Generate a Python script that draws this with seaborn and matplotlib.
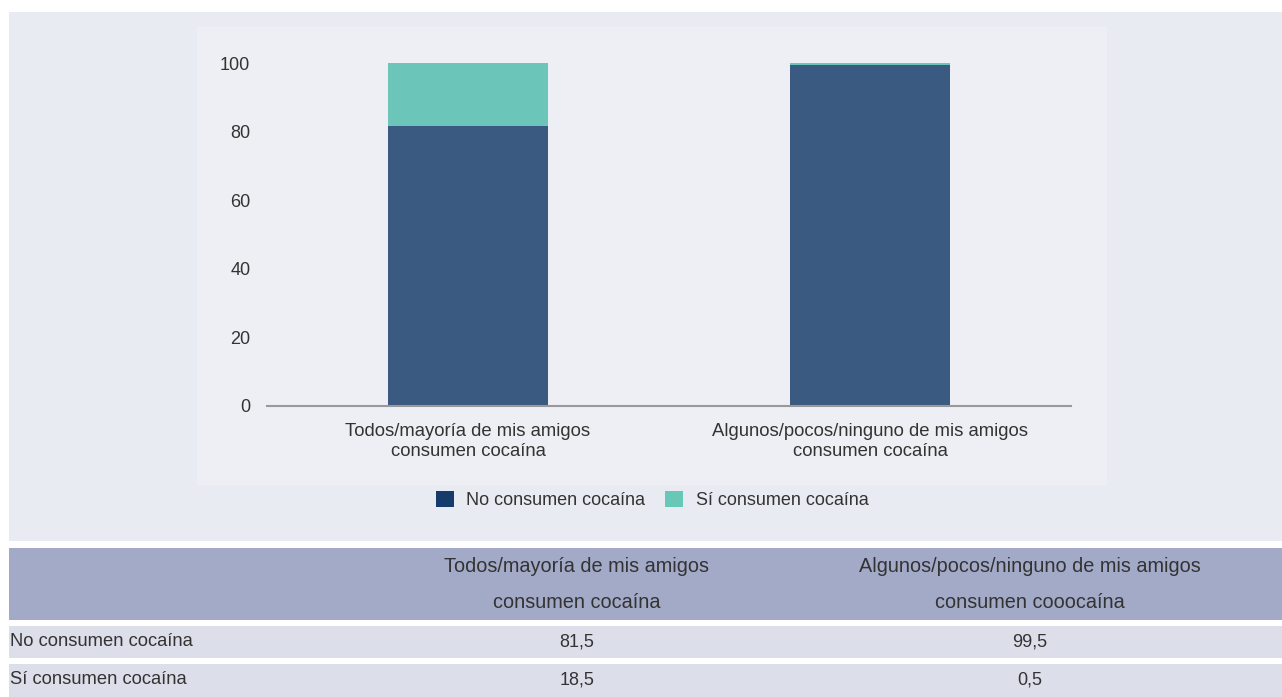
import matplotlib
matplotlib.use("Agg")
import matplotlib.pyplot as plt
import seaborn as sns
import pandas as pd
from matplotlib.patches import Rectangle, Patch

categories = ["Todos/mayoría de mis amigos\nconsumen cocaína",
              "Algunos/pocos/ninguno de mis amigos\nconsumen cocaína"]
no_consumen = [81.5, 99.5]
si_consumen = [18.5, 0.5]
series_names = ["No consumen cocaína", "Sí consumen cocaína"]
table_headers = ["Todos/mayoría de mis amigos\nconsumen cocaína",
                 "Algunos/pocos/ninguno de mis amigos\nconsumen cooocaína"]
table_values = [["81,5", "99,5"], ["18,5", "0,5"]]
yticks = [0, 20, 40, 60, 80, 100]

sns.set_theme(style="white")
plt.rcParams['font.family'] = ['Liberation Sans', 'DejaVu Sans']

W, H = 1282, 697
fig = plt.figure(figsize=(W / 100, H / 100), dpi=100)
fig.patch.set_facecolor("white")

def frect(x0, y0, x1, y1, color):
    # pixel coords (top-left origin) to figure fraction
    fig.patches.append(Rectangle((x0 / W, 1 - y1 / H), (x1 - x0) / W, (y1 - y0) / H,
                                 transform=fig.transFigure, facecolor=color,
                                 edgecolor="none", zorder=-5))

TXT = "#333333"
frect(9, 12, 1282, 541, "#E9EBF3")
frect(197, 27, 1107, 485, "#EEEFF4")

# axes: x 267..1071, y 63..406
ax = fig.add_axes([267 / W, 1 - 406 / H, (1071 - 267) / W, (406 - 63) / H])
ax.set_facecolor("none")
ax.set_zorder(2)

df = pd.DataFrame({"cat": categories, "no": no_consumen, "si": si_consumen})
df["total"] = df["no"] + df["si"]
sns.barplot(data=df, x="cat", y="total", color="#6BC6B9", width=0.4,
            saturation=1, ax=ax, linewidth=0)
sns.barplot(data=df, x="cat", y="no", color="#3A5A82", width=0.4,
            saturation=1, ax=ax, linewidth=0)
ax.set_xlim(-0.5, 1.5)
ax.set_ylim(0, 100)
ax.set_yticks(yticks)
ax.set_yticklabels([str(v) for v in yticks], fontsize=13, color=TXT)
ax.tick_params(axis="y", length=0, pad=20)
ax.tick_params(axis="x", length=0, pad=12)
for lbl in ax.get_yticklabels():
    lbl.set_horizontalalignment("right")
ax.tick_params(axis="y", pad=20)
for lbl in ax.get_xticklabels():
    lbl.set_fontsize(13.3)
    lbl.set_color(TXT)
    lbl.set_linespacing(1.25)
ax.set_xlabel("")
ax.set_ylabel("")
for s in ["top", "right", "left"]:
    ax.spines[s].set_visible(False)
ax.spines["bottom"].set_color("#999999")
ax.spines["bottom"].set_linewidth(1.5)
ax.tick_params(axis="y", pad=12)

handles = [Patch(facecolor="#163C6C", edgecolor="none"),
           Patch(facecolor="#68C8B8", edgecolor="none")]
fig.legend(handles, series_names, loc="center", bbox_to_anchor=(652 / W, 1 - 500 / H),
           ncol=2, frameon=False, fontsize=13, handlelength=1.0, handleheight=1.0,
           columnspacing=1.1, handletextpad=0.7, labelcolor=TXT)

# table
frect(9, 548, 1282, 620, "#A3AAC7")
frect(9, 626, 1282, 658, "#DCDEEA")
frect(9, 664, 1282, 697, "#DCDEEA")
col_x = [577, 1030]
for cx, hdr in zip(col_x, table_headers):
    l1, l2 = hdr.split("\n")
    fig.text(cx / W, 1 - 566 / H, l1, ha="center", va="center", fontsize=14.3, color=TXT)
    fig.text(cx / W, 1 - 602 / H, l2, ha="center", va="center", fontsize=14.3, color=TXT)
row_y = [642, 680]
for ry, name, vals in zip(row_y, series_names, table_values):
    fig.text(10 / W, 1 - ry / H, name, ha="left", va="center", fontsize=13.2, color=TXT)
    for cx, v in zip(col_x, vals):
        fig.text(cx / W, 1 - ry / H, v, ha="center", va="center", fontsize=13, color=TXT)

fig.savefig("out.png", dpi=100, facecolor="white")
